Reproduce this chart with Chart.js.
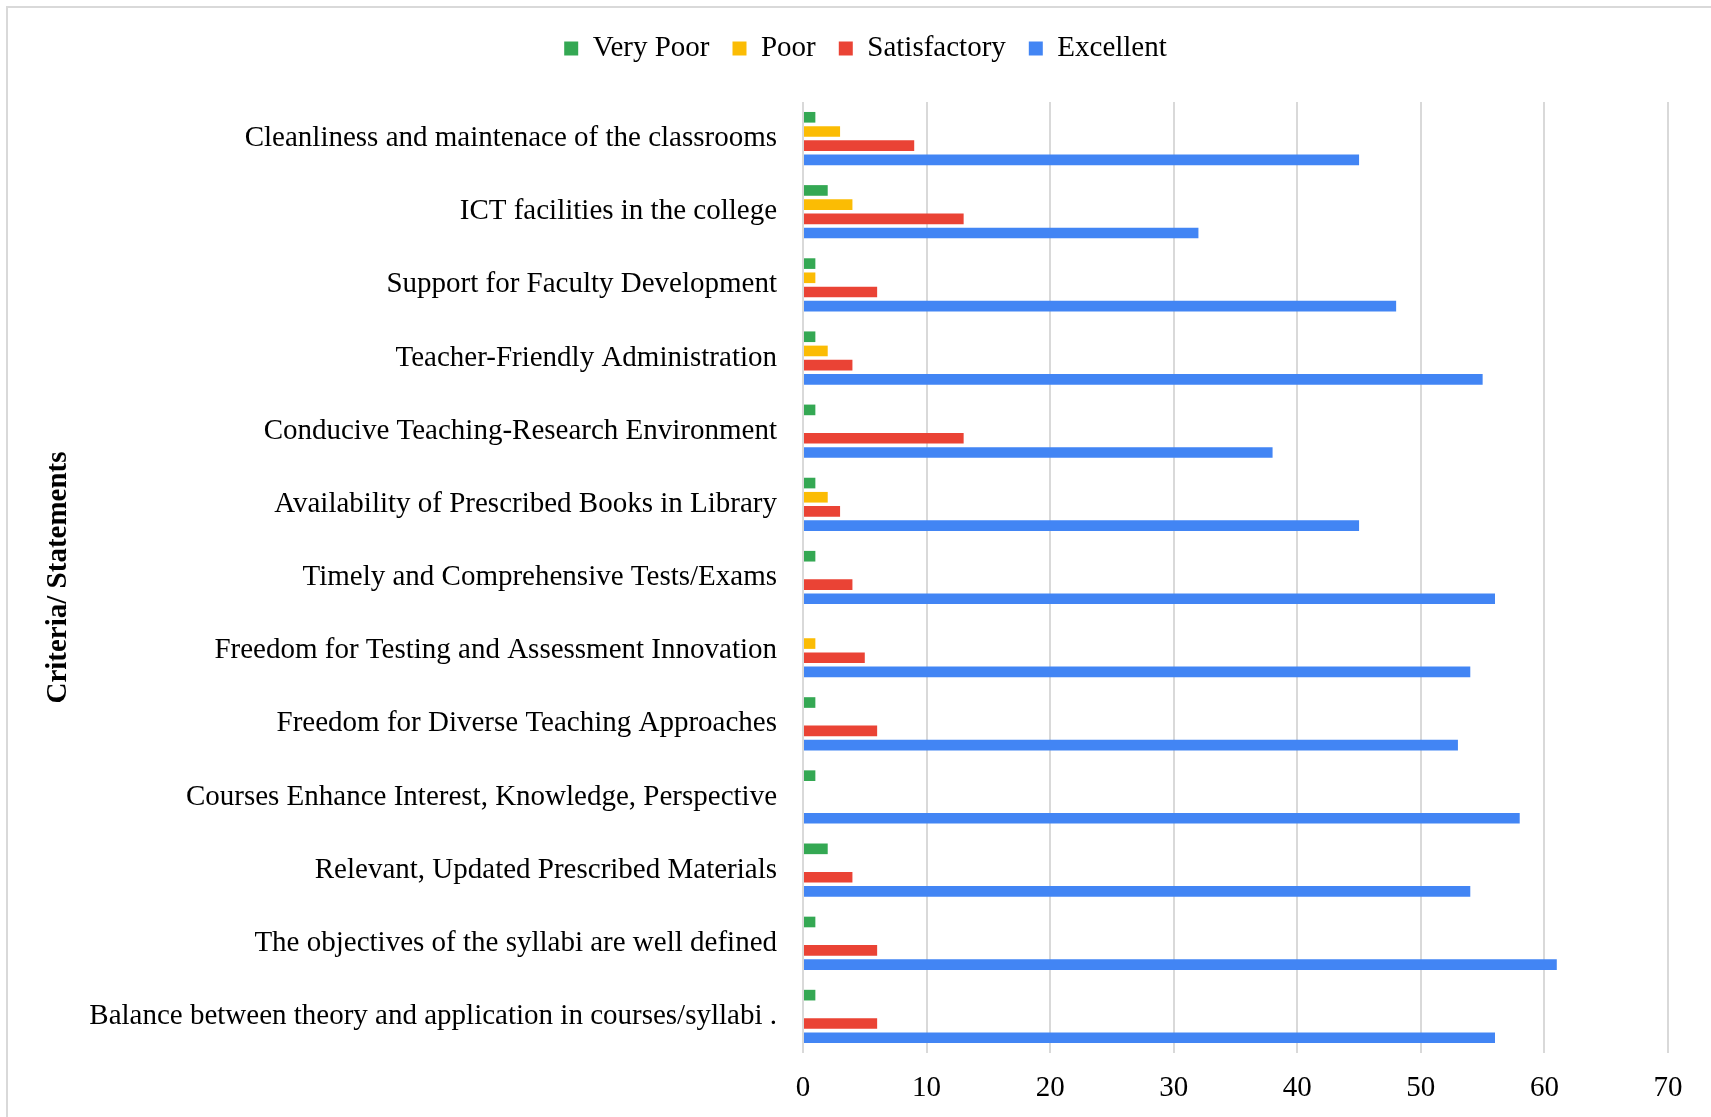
<!DOCTYPE html>
<html>
<head>
<meta charset="utf-8">
<script src="https://cdn.jsdelivr.net/npm/chart.js@4/dist/chart.umd.min.js"></script>
<style>
	html, body { margin: 0; padding: 0; background: #fff; }
	#wrap { position: relative; width: 1711px; height: 1117px; overflow: hidden; }
	#frame { position: absolute; left: 6px; top: 6px; width: 1800px; height: 1200px; border-top: 2px solid #d9d9d9; border-left: 2px solid #d9d9d9; }
	#myChart { position: absolute; left: 0; top: 0; }
</style>
</head>
<body>
<div id="wrap">
	<div id="frame"></div>
	<canvas id="myChart" width="1711" height="1117"></canvas>
</div>
<script>
const criteria = [
	"Cleanliness and maintenace of the classrooms",
	"ICT facilities in the college",
	"Support for Faculty Development",
	"Teacher-Friendly Administration",
	"Conducive Teaching-Research Environment",
	"Availability of Prescribed Books in Library",
	"Timely and Comprehensive Tests/Exams",
	"Freedom for Testing and Assessment Innovation",
	"Freedom for Diverse Teaching Approaches",
	"Courses Enhance Interest, Knowledge, Perspective",
	"Relevant, Updated Prescribed Materials",
	"The objectives of the syllabi are well defined",
	"Balance between theory and application in courses/syllabi ."
];
const veryPoor = [1, 2, 1, 1, 1, 1, 1, 0, 1, 1, 2, 1, 1];
const poor = [3, 4, 1, 2, 0, 2, 0, 1, 0, 0, 0, 0, 0];
const satisfactory = [9, 13, 6, 4, 13, 3, 4, 5, 6, 0, 4, 6, 6];
const excellent = [45, 32, 48, 55, 38, 45, 56, 54, 53, 58, 54, 61, 56];
const xTicks = [0, 10, 20, 30, 40, 50, 60, 70];

const serif = "'Liberation Serif', 'Times New Roman', serif";

// push the plot down below the legend and nudge the legend right, like the original
const legendGap = {
	id: "legendGap",
	beforeInit(chart) {
		const fit = chart.legend.fit;
		chart.legend.fit = function () {
			fit.bind(chart.legend)();
			this.height += 29;
		};
	},
	afterLayout(chart) {
		chart.legend.left += 11;
		chart.legend.right += 11;
	}
};

let ctx = document.getElementById("myChart").getContext("2d");

new Chart(ctx, {
	type: "bar",
	data: {
		labels: criteria,
		datasets: [
			{ label: "Very Poor", data: veryPoor, backgroundColor: "#34A853" },
			{ label: "Poor", data: poor, backgroundColor: "#FBBC04" },
			{ label: "Satisfactory", data: satisfactory, backgroundColor: "#EA4335" },
			{ label: "Excellent", data: excellent, backgroundColor: "#4285F4" }
		]
	},
	options: {
		indexAxis: "y",
		responsive: false,
		animation: false,
		devicePixelRatio: 1,
		categoryPercentage: 0.776,
		barPercentage: 0.75,
		layout: { padding: { left: 41, top: 11, right: 43, bottom: 10 } },
		plugins: {
			tooltip: { enabled: false },
			legend: {
				position: "top",
				labels: {
					boxWidth: 14,
					boxHeight: 14,
					padding: 23,
					color: "#000",
					font: { family: serif, size: 29 }
				}
			}
		},
		scales: {
			x: {
				min: 0,
				max: 70,
				afterBuildTicks: scale => {
					scale.ticks = xTicks.map(v => ({ value: v }));
				},
				grid: { color: "#d9d9d9", lineWidth: 2, drawTicks: false },
				border: { display: false },
				ticks: { padding: 18, color: "#000", font: { family: serif, size: 29 } },
				afterFit: scale => {
					scale.height = 54;
				}
			},
			y: {
				grid: { display: false, drawTicks: false },
				border: { display: false },
				ticks: { padding: 26, color: "#000", font: { family: serif, size: 29 } },
				title: {
					display: true,
					text: "Criteria/ Statements",
					color: "#000",
					padding: 0,
					font: { family: serif, size: 29, weight: "bold" }
				},
				afterFit: scale => {
					scale.width = 762;
				}
			}
		}
	},
	plugins: [legendGap]
});
</script>
</body>
</html>
